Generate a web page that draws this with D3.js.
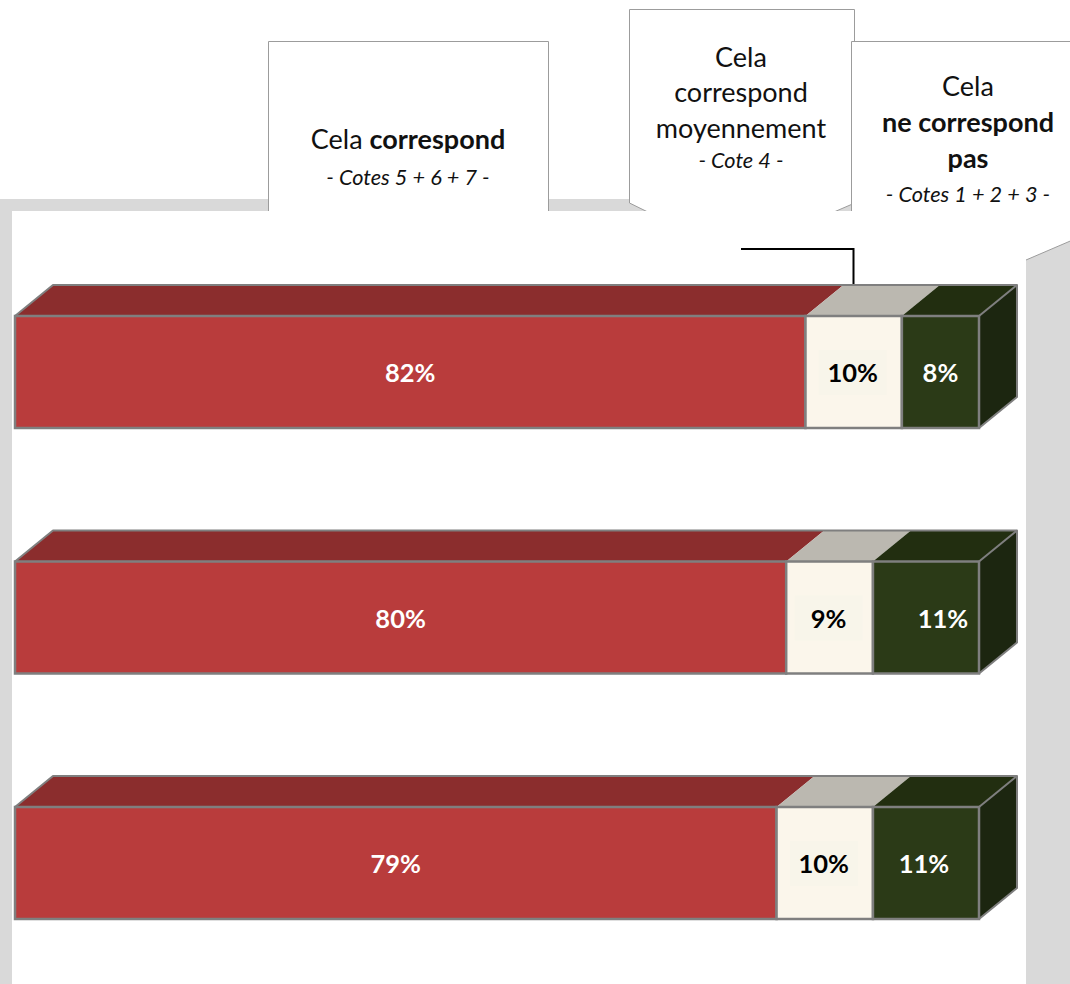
<!DOCTYPE html>
<html><head><meta charset="utf-8">
<script src="https://cdn.jsdelivr.net/npm/d3@7/dist/d3.min.js"></script>
<style>html,body{margin:0;padding:0;background:#fff;overflow:hidden}svg{display:block}text{font-family:Lato,"Open Sans",sans-serif}</style>
</head><body><svg id="c" width="1070" height="984"></svg>
<script>
const rows = ["Ligne 1", "Ligne 2", "Ligne 3"];
const seriesNames = ["Cela correspond", "Cela correspond moyennement", "Cela ne correspond pas"];
const correspond = [82, 80, 79];
const moyennement = [10, 9, 10];
const neCorrespondPas = [8, 11, 11];
const seriesValues = [correspond, moyennement, neCorrespondPas];
const frontColors = ["#B93C3C", "#FBF6EB", "#2B3A17"];
const topColors = ["#8B2D2D", "#BBB8B0", "#222E10"];
const labelColors = ["#fff", "#000", "#fff"];

const W = 1070, H = 984;
const svg = d3.select("#c");
const x = d3.scaleLinear().domain([0, 100]).range([15, 979]);
const y = d3.scalePoint().domain(rows).range([316, 807]);
const barH = 112, dx = 38, dy = 31;
const edge = "#7F7F7F";
// hand placed label nudges seen in the reference: [series, row] -> px
const nudge = (s, r) => (s === 2 && r === 1) ? 17 : (s === 2 && r === 2) ? -2 : (s === 1 ? -1 : 0);

// grey frame
svg.append("rect").attr("x", 0).attr("y", 199).attr("width", W).attr("height", H - 199).attr("fill", "#D9D9D9");

// callouts
const calloutEdge = "#9C9C9C";
const poly = pts => d3.line()(pts);
svg.append("path").attr("d", poly([[268.5,41.5],[548.5,41.5],[548.5,225],[268.5,225]]) + "Z")
  .attr("fill", "#fff").attr("stroke", calloutEdge).attr("stroke-width", 1);
svg.append("path").attr("d", poly([[629.5,9.5],[854.5,9.5],[854.5,70],[852.5,70],[852.5,204],[820,218],[660,218],[629.5,203]]) + "Z")
  .attr("fill", "#fff").attr("stroke", calloutEdge).attr("stroke-width", 1);
svg.append("path").attr("d", poly([[851.5,41.5],[1075,41.5],[1075,239],[1026,260],[851.5,260]]) + "Z")
  .attr("fill", "#fff").attr("stroke", calloutEdge).attr("stroke-width", 1);

// white plot panel
svg.append("rect").attr("x", 12).attr("y", 211).attr("width", 1014).attr("height", H - 211).attr("fill", "#fff");

// connector
svg.append("path").attr("d", poly([[741,249],[853.5,249],[853.5,286]]))
  .attr("fill", "none").attr("stroke", "#000").attr("stroke-width", 2);

// bars
rows.forEach((row, r) => {
  const g = svg.append("g");
  const top = y(row), bot = top + barH;
  let cum = 0;
  const segs = seriesValues.map((vals, s) => {
    const a = cum; cum += vals[r];
    return { s, a, b: cum, v: vals[r] };
  });
  // top faces
  g.selectAll(".t").data(segs).join("path")
    .attr("d", d => poly([[x(d.a), top],[x(d.a)+dx, top-dy],[x(d.b)+dx, top-dy],[x(d.b), top]]) + "Z")
    .attr("fill", d => topColors[d.s]);
  // side face
  g.append("path")
    .attr("d", poly([[x(100), top],[x(100)+dx, top-dy],[x(100)+dx, bot-dy],[x(100), bot]]) + "Z")
    .attr("fill", "#1C2610");
  // silhouette
  g.append("path")
    .attr("d", poly([[x(0), top],[x(0)+dx, top-dy],[x(100)+dx, top-dy],[x(100)+dx, bot-dy],[x(100), bot]]))
    .attr("fill", "none").attr("stroke", edge).attr("stroke-width", 2).attr("stroke-linejoin", "round");
  g.append("line")
    .attr("x1", x(100)).attr("y1", top).attr("x2", x(100)+dx).attr("y2", top-dy)
    .attr("stroke", edge).attr("stroke-width", 2);
  // front faces
  g.selectAll(".f").data(segs).join("rect")
    .attr("x", d => x(d.a)).attr("y", top)
    .attr("width", d => x(d.b) - x(d.a)).attr("height", barH)
    .attr("fill", d => frontColors[d.s])
    .attr("stroke", edge).attr("stroke-width", 2.5);
  // label plate behind the dark-on-light labels
  g.selectAll(".p").data(segs.filter(d => d.s === 1)).join("rect")
    .attr("x", d => (x(d.a)+x(d.b))/2 + nudge(d.s, r) - 34).attr("y", top + barH/2 - 22)
    .attr("width", 68).attr("height", 45).attr("fill", "#F8F5EA");
  // labels
  g.selectAll(".l").data(segs).join("text")
    .attr("x", d => (x(d.a)+x(d.b))/2 + nudge(d.s, r))
    .attr("y", top + barH/2 + 10)
    .attr("text-anchor", "middle")
    .attr("font-size", 25.5).attr("font-weight", 700)
    .attr("fill", d => labelColors[d.s])
    .text(d => d.v + "%");
});

// callout text
function line(cx, by, parts, size) {
  const t = svg.append("text").attr("x", cx).attr("y", by).attr("text-anchor", "middle").attr("font-size", size).attr("fill", "#111");
  parts.forEach(p => t.append("tspan").attr("font-weight", p.b ? 700 : 400).attr("font-style", p.i ? "italic" : "normal").text(p.t));
}
line(408, 149, [{t:"Cela "},{t:"correspond", b:1}], 27);
line(408, 185, [{t:"- Cotes 5 + 6 + 7 -", i:1}], 21.7);
line(741, 67, [{t:"Cela"}], 27);
line(741, 102, [{t:"correspond"}], 27);
line(741, 138, [{t:"moyennement"}], 27);
line(741, 168, [{t:"- Cote 4 -", i:1}], 21.7);
line(968, 96, [{t:"Cela"}], 27);
line(968, 132, [{t:"ne correspond", b:1}], 27);
line(968, 168, [{t:"pas", b:1}], 27);
line(968, 202, [{t:"- Cotes 1 + 2 + 3 -", i:1}], 21.7);
</script></body></html>
